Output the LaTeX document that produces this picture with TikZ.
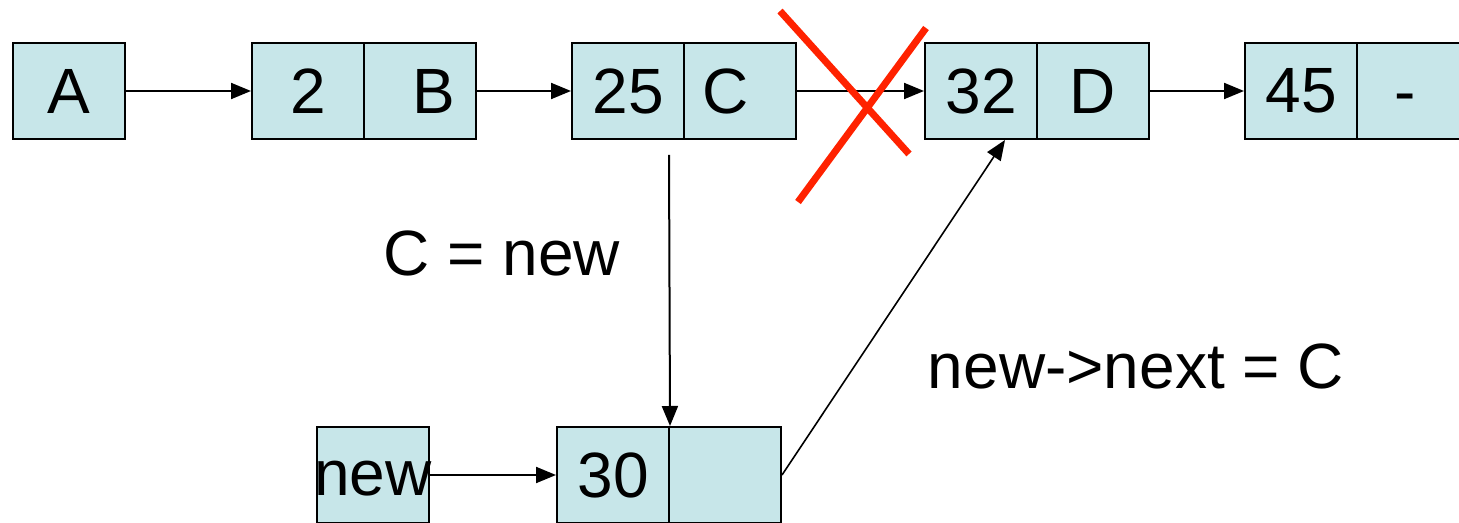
\documentclass[tikz,border=0pt]{standalone}
\usepackage{fontspec}
\setmainfont{Liberation Sans}
\usetikzlibrary{arrows.meta}
\definecolor{cellfill}{RGB}{199,230,233}
\definecolor{crossred}{RGB}{255,34,0}

\begin{document}
\begin{tikzpicture}[x=0.5pt,y=-0.5pt,
    cell/.style={draw=black,fill=cellfill,line width=1pt,inner sep=0pt,
      minimum width=56pt,minimum height=48pt,
      font=\fontsize{32}{38}\selectfont},
    arr/.style={line width=1pt,-{Triangle[length=10pt,width=8pt]}},
    txt/.style={font=\fontsize{32}{38}\selectfont}]
    \useasboundingbox (0,0) rectangle (1459,523);
    % top row
    \node[cell] (a) at (69,91) {A};
    \node[cell] (b1) at (308,91) {2};
    \node[cell] (b2) at (420,91) {};
    \node[txt] at ([xshift=7pt]b2.center) {B};
    \node[cell] (c1) at (628,91) {25};
    \node[cell] (c2) at (740,91) {};
    \node[txt] at ([xshift=-7pt]c2.center) {C};
    \node[cell] (d1) at (981,91) {32};
    \node[cell] (d2) at (1093,91) {D};
    \node[cell] (e1) at (1301,91) {45};
    \node[cell] (e2) at (1413,91) {};
    \node[txt] at ([xshift=-4pt]e2.center) {\vphantom{4}-};
    % bottom row
    \node[cell] (nw) at (373,475) {};
    \node[txt] at ([yshift=-2pt]nw.center) {\makebox[0pt]{new}};
    \node[cell] (n1) at (613,475) {30};
    \node[cell] (n2) at (725,475) {};
    \draw[arr] (a.east) -- (b1.west);
    \draw[arr] (b2.east) -- (c1.west);
    \draw[arr] (c2.east) -- (d1.west);
    \draw[arr] (d2.east) -- (e1.west);
    \draw[arr] (nw.east) -- (n1.west);
    \coordinate (cdown) at (669,155);
    \coordinate (dup) at (1005,140);
    \draw[arr] (cdown) -- (n1.north east);
    \draw[line width=0.8pt,-{Triangle[length=10pt,width=8pt]}] (n2.east) -- (dup);
    % the cut link
    \draw[crossred,line width=3.5pt] (780,11) -- (909,154) (926,28) -- (798,202);
    \node[txt] (cnew) at (502,253) {C = new};
    \node[txt] (nnext) at (1136,366) {new->next = C};
\end{tikzpicture}
\end{document}
